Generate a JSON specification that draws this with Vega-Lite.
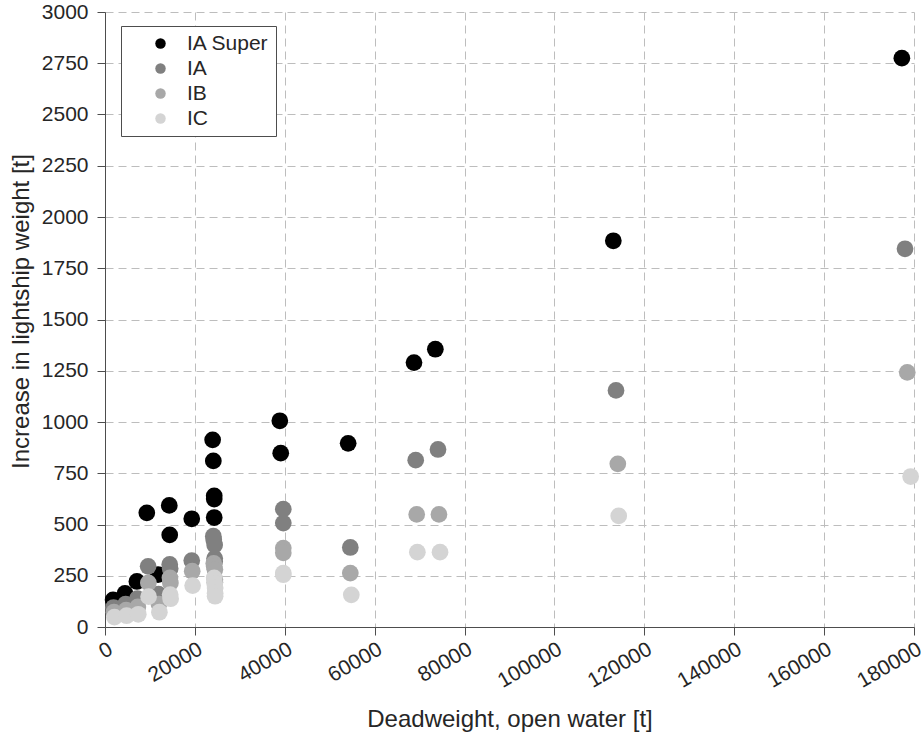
{
  "$schema": "https://vega.github.io/schema/vega-lite/v6.json",
  "autosize": "none",
  "width": 809,
  "height": 615,
  "padding": {"left": 105, "top": 12, "right": 7, "bottom": 113},
  "background": "white",
  "config": {
    "view": {"stroke": null},
    "font": "Liberation Sans",
    "axis": {
      "labelFont": "Liberation Sans",
      "titleFont": "Liberation Sans",
      "labelColor": "#262626",
      "titleColor": "#262626",
      "titleFontWeight": "normal",
      "domainColor": "#4d4d4d",
      "tickColor": "#4d4d4d",
      "gridColor": "#bdbdbd",
      "gridDash": [8, 5],
      "gridWidth": 1,
      "gridOpacity": 1
    }
  },
  "data": {
    "values": [
      {"dwt": 1800, "inc": 132, "cls": "IA Super"},
      {"dwt": 4450, "inc": 164, "cls": "IA Super"},
      {"dwt": 7100, "inc": 222, "cls": "IA Super"},
      {"dwt": 9300, "inc": 557, "cls": "IA Super"},
      {"dwt": 11800, "inc": 256, "cls": "IA Super"},
      {"dwt": 14300, "inc": 593, "cls": "IA Super"},
      {"dwt": 14400, "inc": 449, "cls": "IA Super"},
      {"dwt": 19300, "inc": 528, "cls": "IA Super"},
      {"dwt": 23950, "inc": 913, "cls": "IA Super"},
      {"dwt": 24100, "inc": 810, "cls": "IA Super"},
      {"dwt": 24300, "inc": 640, "cls": "IA Super"},
      {"dwt": 24300, "inc": 624, "cls": "IA Super"},
      {"dwt": 24300, "inc": 534, "cls": "IA Super"},
      {"dwt": 38900, "inc": 1006, "cls": "IA Super"},
      {"dwt": 39100, "inc": 848, "cls": "IA Super"},
      {"dwt": 54100, "inc": 896, "cls": "IA Super"},
      {"dwt": 68750, "inc": 1290, "cls": "IA Super"},
      {"dwt": 73500, "inc": 1355, "cls": "IA Super"},
      {"dwt": 113100, "inc": 1884, "cls": "IA Super"},
      {"dwt": 177300, "inc": 2775, "cls": "IA Super"},

      {"dwt": 1900, "inc": 95, "cls": "IA"},
      {"dwt": 4600, "inc": 112, "cls": "IA"},
      {"dwt": 7200, "inc": 138, "cls": "IA"},
      {"dwt": 9600, "inc": 296, "cls": "IA"},
      {"dwt": 11900, "inc": 160, "cls": "IA"},
      {"dwt": 14400, "inc": 305, "cls": "IA"},
      {"dwt": 14500, "inc": 285, "cls": "IA"},
      {"dwt": 19300, "inc": 324, "cls": "IA"},
      {"dwt": 24100, "inc": 443, "cls": "IA"},
      {"dwt": 24200, "inc": 425, "cls": "IA"},
      {"dwt": 24400, "inc": 400, "cls": "IA"},
      {"dwt": 24400, "inc": 335, "cls": "IA"},
      {"dwt": 24400, "inc": 320, "cls": "IA"},
      {"dwt": 39670, "inc": 575, "cls": "IA"},
      {"dwt": 39670, "inc": 507, "cls": "IA"},
      {"dwt": 54580, "inc": 388, "cls": "IA"},
      {"dwt": 69130, "inc": 814, "cls": "IA"},
      {"dwt": 74090, "inc": 866, "cls": "IA"},
      {"dwt": 113700, "inc": 1154, "cls": "IA"},
      {"dwt": 178000, "inc": 1845, "cls": "IA"},

      {"dwt": 2000, "inc": 72, "cls": "IB"},
      {"dwt": 4700, "inc": 82, "cls": "IB"},
      {"dwt": 7300, "inc": 98, "cls": "IB"},
      {"dwt": 9650, "inc": 215, "cls": "IB"},
      {"dwt": 12000, "inc": 112, "cls": "IB"},
      {"dwt": 14450, "inc": 240, "cls": "IB"},
      {"dwt": 14550, "inc": 215, "cls": "IB"},
      {"dwt": 19400, "inc": 272, "cls": "IB"},
      {"dwt": 24200, "inc": 310, "cls": "IB"},
      {"dwt": 24300, "inc": 295, "cls": "IB"},
      {"dwt": 24450, "inc": 280, "cls": "IB"},
      {"dwt": 24450, "inc": 232, "cls": "IB"},
      {"dwt": 24450, "inc": 218, "cls": "IB"},
      {"dwt": 39670, "inc": 385, "cls": "IB"},
      {"dwt": 39670, "inc": 362, "cls": "IB"},
      {"dwt": 54580, "inc": 263, "cls": "IB"},
      {"dwt": 69350, "inc": 549, "cls": "IB"},
      {"dwt": 74300, "inc": 549, "cls": "IB"},
      {"dwt": 114100, "inc": 796, "cls": "IB"},
      {"dwt": 178500, "inc": 1242, "cls": "IB"},

      {"dwt": 2100, "inc": 48, "cls": "IC"},
      {"dwt": 4800, "inc": 55, "cls": "IC"},
      {"dwt": 7400, "inc": 62, "cls": "IC"},
      {"dwt": 9700, "inc": 148, "cls": "IC"},
      {"dwt": 12100, "inc": 72, "cls": "IC"},
      {"dwt": 14500, "inc": 158, "cls": "IC"},
      {"dwt": 14600, "inc": 138, "cls": "IC"},
      {"dwt": 19500, "inc": 202, "cls": "IC"},
      {"dwt": 24300, "inc": 240, "cls": "IC"},
      {"dwt": 24400, "inc": 212, "cls": "IC"},
      {"dwt": 24500, "inc": 190, "cls": "IC"},
      {"dwt": 24500, "inc": 165, "cls": "IC"},
      {"dwt": 24500, "inc": 150, "cls": "IC"},
      {"dwt": 39670, "inc": 263, "cls": "IC"},
      {"dwt": 39670, "inc": 255, "cls": "IC"},
      {"dwt": 54800, "inc": 157, "cls": "IC"},
      {"dwt": 69500, "inc": 365, "cls": "IC"},
      {"dwt": 74540, "inc": 365, "cls": "IC"},
      {"dwt": 114300, "inc": 542, "cls": "IC"},
      {"dwt": 179260, "inc": 734, "cls": "IC"}
    ]
  },
  "mark": {"type": "point", "filled": true, "shape": "circle", "size": 280, "opacity": 1},
  "encoding": {
    "x": {
      "field": "dwt",
      "type": "quantitative",
      "scale": {"domain": [0, 180000], "nice": false, "zero": false},
      "axis": {
        "title": "Deadweight, open water [t]",
        "titleFontSize": 24,
        "titlePadding": 16,
        "values": [0, 20000, 40000, 60000, 80000, 100000, 120000, 140000, 160000, 180000],
        "format": "d",
        "labelFontSize": 21,
        "labelAngle": -30,
        "labelAlign": "right",
        "labelBaseline": "top",
        "labelPadding": 3,
        "tickSize": 8,
        "labelFlush": false,
        "labelOverlap": false,
        "labelBound": false
      }
    },
    "y": {
      "field": "inc",
      "type": "quantitative",
      "scale": {"domain": [0, 3000], "nice": false},
      "axis": {
        "title": "Increase in lightship weight [t]",
        "titleFontSize": 24,
        "titlePadding": 8,
        "titleY": 299,
        "values": [0, 250, 500, 750, 1000, 1250, 1500, 1750, 2000, 2250, 2500, 2750, 3000],
        "format": "d",
        "labelFontSize": 21,
        "labelPadding": 9,
        "tickSize": 8,
        "labelFlush": false,
        "labelOverlap": false,
        "labelBound": false
      }
    },
    "color": {
      "field": "cls",
      "type": "nominal",
      "scale": {
        "domain": ["IA Super", "IA", "IB", "IC"],
        "range": ["#000000", "#808080", "#a8a8a8", "#d4d4d4"]
      },
      "legend": {
        "title": null,
        "orient": "none",
        "legendX": 16,
        "legendY": 14,
        "padding": 7,
        "rowPadding": 3,
        "symbolType": "circle",
        "symbolSize": 110,
        "symbolOffset": 22,
        "symbolStrokeWidth": 0,
        "labelOffset": 16,
        "labelFontSize": 21,
        "labelFont": "Liberation Sans",
        "labelColor": "#262626",
        "strokeColor": "#4d4d4d",
        "fillColor": "white"
      }
    }
  }
}
